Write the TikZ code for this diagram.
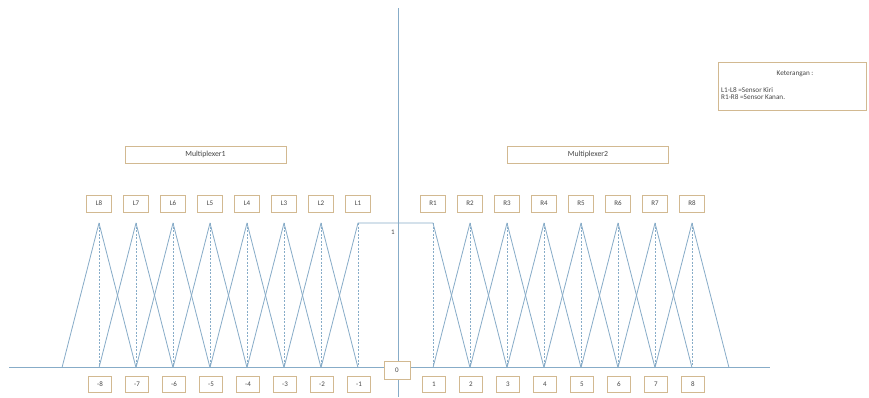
\documentclass[tikz,border=0pt]{standalone}
\usepackage{fontspec}
\setmainfont{Carlito}
\definecolor{axisblue}{RGB}{135,172,200}
\definecolor{boxtan}{RGB}{210,185,145}
\definecolor{txtgray}{RGB}{70,70,70}
\begin{document}
\begin{tikzpicture}[x=1pt,y=-1pt,
  lbl/.style={draw=boxtan,line width=0.9pt,fill=white,minimum width=25pt,minimum height=17pt,inner sep=0pt,font=\fontsize{7}{8}\selectfont,text=txtgray},
  wide/.style={draw=boxtan,line width=0.9pt,fill=white,minimum width=161pt,minimum height=17pt,inner sep=0pt,font=\fontsize{7.8}{9}\selectfont,text=txtgray},
  mf/.style={draw=axisblue,line width=0.8pt,line join=round},
  guide/.style={draw=axisblue,line width=0.7pt,dashed,dash pattern=on 2pt off 1.5pt},
  ax/.style={draw=axisblue,line width=1pt}]
\useasboundingbox (0,0) rectangle (869,397);
\fill[white] (0,0) rectangle (869,397);
% coordinates
\foreach \k in {1,...,9}{
  \coordinate (bL\k) at ({358-(\k-1)*37},367.7);
  \coordinate (pL\k) at ({358-(\k-1)*37},223);
  \coordinate (bR\k) at ({433+(\k-1)*37},367.7);
  \coordinate (pR\k) at ({433+(\k-1)*37},223);
}
\coordinate (hl) at (9,367.7);
\coordinate (hr) at (770,367.7);
\coordinate (vt) at (398,8);
\coordinate (vb) at (398,397);
% axes
\draw[ax] (hl) -- (hr);
\draw[ax] (vt) -- (vb);
% dashed guides
\foreach \k in {1,...,8}{
  \draw[guide] (pL\k) -- (bL\k);
  \draw[guide] (pR\k) -- (bR\k);
}
% membership functions
\foreach \k [evaluate=\k as \a using int(\k+1), evaluate=\k as \b using int(\k-1)] in {2,...,8}{
  \draw[mf] (bL\a) -- (pL\k) -- (bL\b);
  \draw[mf] (bR\b) -- (pR\k) -- (bR\a);
}
\draw[mf] (bL2) -- (pL1) -- (pR1) -- (bR2);
% label "1"
\node[font=\fontsize{7}{8}\selectfont,text=txtgray] (one) at (393,232) {1};
% label boxes
\foreach \k in {1,...,8}{
  \node[lbl] (tL\k) at ({358-(\k-1)*37},203.5) {L\k};
  \node[lbl] (tR\k) at ({433+(\k-1)*37},203.5) {R\k};
  \node[lbl,minimum width=23pt,minimum height=16pt] (nL\k) at ({358-(\k-1)*37+1},384) {-\k};
  \node[lbl,minimum width=23pt,minimum height=16pt] (nR\k) at ({433+(\k-1)*37+1},384) {\k};
}
\node[lbl,minimum width=26pt,minimum height=18pt] (zero) at (397,370) {0};
% multiplexers
\node[wide] (mux1) at (205.5,154.5) {Multiplexer1};
\node[wide] (mux2) at (588,154.5) {Multiplexer2};
% legend
\node[draw=boxtan,line width=0.9pt,fill=white,minimum width=148pt,minimum height=48pt,inner sep=0pt] (leg) at (792,86) {};
\node[font=\fontsize{7.2}{8}\selectfont,text=txtgray] (legt) at (795,74) {Keterangan :};
\node[font=\fontsize{7.2}{7.6}\selectfont,text=txtgray,anchor=north west,align=left,inner sep=0pt] (legb) at (721,87) {L1-L8 =Sensor Kiri\\R1-R8 =Sensor Kanan.};
\end{tikzpicture}
\end{document}
